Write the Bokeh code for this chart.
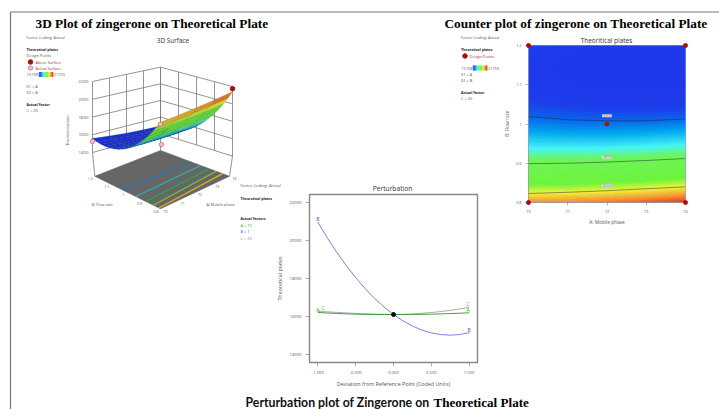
from bokeh.plotting import figure
from bokeh.embed import file_html
from bokeh.resources import INLINE
from bokeh.models import Range1d, FixedTicker
from bokeh.core.properties import value
import numpy as np

# ---------- data ----------
mobile_phase = [70, 71, 72, 73, 74]
flow_rate = [0.8, 0.825, 0.85, 0.875, 0.9, 0.925, 0.95, 0.975, 1.0,
             1.025, 1.05, 1.075, 1.1, 1.125, 1.15, 1.175, 1.2]
plates_surface = [
    [20760, 20845, 20980, 21165, 21400],
    [19979, 20044, 20159, 20324, 20539],
    [19259, 19304, 19399, 19544, 19739],
    [18600, 18625, 18700, 18825, 19000],
    [18003, 18008, 18063, 18168, 18323],
    [17465, 17450, 17485, 17570, 17705],
    [16989, 16954, 16969, 17034, 17149],
    [16574, 16519, 16514, 16559, 16654],
    [16220, 16145, 16120, 16145, 16220],
    [15927, 15832, 15787, 15792, 15847],
    [15694, 15579, 15514, 15499, 15534],
    [15523, 15388, 15303, 15268, 15283],
    [15413, 15258, 15153, 15098, 15093],
    [15363, 15188, 15063, 14988, 14963],
    [15374, 15179, 15034, 14939, 14894],
    [15447, 15232, 15067, 14952, 14887],
    [15580, 15345, 15160, 15025, 14940],
]
z_ticks = [14000, 16000, 18000, 20000, 22000]
b_ticks = [0.8, 0.9, 1.0, 1.1, 1.2]
a_ticks = [70, 71, 72, 73, 74]
design_A = [70, 74, 72, 74]
design_B = [1.2, 1.2, 1.0, 0.8]
design_Z = [15240, 15158, 15390, 21755]
floor_levels_B70 = [1.03, 0.95, 0.89, 0.844, 0.81]
floor_levels_B74 = [1.02, 0.966, 0.917, 0.878, 0.84]
floor_colors = ["#1f78c8", "#22b8b8", "#22b04a", "#7cc62c", "#e0b020"]

contour_A = [70, 71, 72, 73, 74]
contour_16000 = [1.019, 1.011, 1.008, 1.008, 1.013]
contour_18000 = [0.899, 0.900, 0.903, 0.907, 0.912]
contour_20000 = [0.823, 0.826, 0.830, 0.835, 0.840]
corner_A = [70, 74, 72, 70, 74]
corner_B = [1.2, 1.2, 1.0, 0.8, 0.8]

pert_x = [-1, -0.875, -0.75, -0.625, -0.5, -0.375, -0.25, -0.125, 0,
          0.125, 0.25, 0.375, 0.5, 0.625, 0.75, 0.875, 1]
pert_B = [20980, 20159, 19399, 18700, 18063, 17485, 16969, 16514, 16120,
          15787, 15514, 15303, 15153, 15063, 15034, 15067, 15160]
pert_A = [16230, 16200, 16175, 16155, 16140, 16130, 16122, 16120, 16120,
          16120, 16125, 16130, 16140, 16155, 16170, 16190, 16210]
pert_C = [16300, 16265, 16235, 16205, 16180, 16160, 16140, 16128, 16120,
          16130, 16150, 16185, 16225, 16280, 16340, 16410, 16500]

palette_stops = [0.0, 0.07, 0.12, 0.2, 0.31, 0.40, 0.64, 0.74, 0.85, 0.95]
palette_rgb = [(32, 56, 235), (30, 62, 235), (12, 95, 235), (0, 165, 240), (70, 245, 245),
               (110, 245, 90), (110, 245, 60), (240, 245, 60), (250, 150, 50), (225, 55, 30)]
z_min, z_max = 15158, 21755
GRAY = "#555555"
FONT = "Open Sans"


def rgb_of(z):
    f = min(1.0, max(0.0, (z - z_min) / (z_max - z_min)))
    return tuple(int(np.interp(f, palette_stops, [c[i] for c in palette_rgb])) for i in range(3))


def hex_of(z, k=1.0):
    return "#%02x%02x%02x" % tuple(int(c * k) for c in rgb_of(z))


def absolute(left, top):
    return {"position": "absolute", "left": f"{left}px", "top": f"{top}px"}


# ---------- background sheet: titles, legends, 3-D view ----------
bg = figure(width=719, height=409, x_range=Range1d(0, 719), y_range=Range1d(409, 0),
            output_backend="svg", toolbar_location=None, min_border=0,
            outline_line_color=None, styles=absolute(0, 0))
bg.axis.visible = False
bg.grid.visible = False


def put(x, y, s, size=3.9, color=GRAY, bold=False, align="left", font=FONT, angle=0.0):
    bg.text([x], [y], text=[s], text_font=value(font), text_font_size=f"{size}px",
            text_color=color, text_align=align, text_baseline="middle",
            text_font_style="bold" if bold else "normal", angle=angle)


bg.line([10, 719], [11.5, 11.5], line_color="#777777", line_width=1.2)
bg.line([10, 10], [11.5, 409], line_color="#777777", line_width=1.2)

put(35, 23, "3D Plot of zingerone on Theoretical Plate", 13.3, "#000000", True, font="Liberation Serif")
put(444, 23, "Counter plot of zingerone on Theoretical Plate", 13.3, "#000000", True, font="Liberation Serif")
put(245, 402, "Perturbation plot of Zingerone on", 12.3, "#111111", True, font="Lato")
put(433, 402, "Theoretical Plate", 13.1, "#000000", True, font="Liberation Serif")

BOLD = dict(bold=True, size=3.5, color="#222222")
# legend, 3-D
put(26, 37, "Factor Coding: Actual")
put(26, 49, "Theoretical plates", **BOLD)
put(26, 55, "Design Points")
put(35, 61.5, "Above Surface", color="#b03030")
put(35, 67.5, "Below Surface", color="#b03030")
bg.scatter([30], [61.5], size=4.5, color="#a81010")
bg.scatter([30], [67.5], size=4.5, fill_color="#f0c0c0", line_color="#b06060", line_width=0.6)
put(26, 74, "15158", color="#4040c0")
put(53.5, 74, "21755", color="#c03030")
put(26, 86, "X1 = A")
put(26, 92, "X2 = B")
put(26, 104, "Actual Factor", **BOLD)
put(26, 110, "C = 20")
put(172.5, 40, "3D Surface", 6.4, "#333333", align="center")

# legend, contour
put(460.5, 37, "Factor Coding: Actual")
put(460.5, 49, "Theoretical plates", **BOLD)
bg.scatter([464.5], [55.5], size=4.5, color="#a81010")
put(469, 55.5, "Design Points", color="#b03030")
put(460.7, 67.5, "15158", color="#4040c0")
put(487.7, 67.5, "21755", color="#c03030")
put(460.5, 74, "X1 = A")
put(460.5, 80, "X2 = B")
put(460.5, 92, "Actual Factor", **BOLD)
put(460.5, 98, "C = 20")

# legend, perturbation
put(240, 185, "Factor Coding: Actual", 4.1)
put(240, 198, "Theoretical plates", **BOLD)
put(240, 218, "Actual Factors", **BOLD)
put(240, 224.5, "A = 72", color="#30a030")
put(240, 231, "B = 1", color="#4040d0")
put(240, 237.5, "C = 20", color="#888888")

# colour bars
bar_vals = list(np.linspace(z_min, z_max, 24))
for x0, y0 in [(38.3, 74), (472.3, 67.5)]:
    w = 14.4 / len(bar_vals)
    bg.quad(left=[x0 + i * w for i in range(len(bar_vals))],
            right=[x0 + (i + 1) * w + 0.2 for i in range(len(bar_vals))],
            top=[y0 - 2.6] * len(bar_vals), bottom=[y0 + 2.6] * len(bar_vals),
            fill_color=[hex_of(v) for v in bar_vals], line_color=None)

# 3-D projection anchored on the four corners of the floor
C_XF = {"L": 94.3, "F": 160.0, "R": 229.0, "B": 160.0}
C_YF = {"L": 175.7, "F": 208.3, "R": 175.7, "B": 150.0}
C_XW = {"L": 92.0, "F": 160.0, "R": 232.0, "B": 160.0}
C_Y14 = {"L": 152.0, "F": 184.0, "R": 155.6, "B": 133.3}
C_S = {"L": 8.875, "F": 9.2, "R": 8.7, "B": 8.33}


def bil(c, a, b):
    u = (a - 70) / 4.0
    v = (b - 0.8) / 0.4
    return (c["F"] * (1 - u) * (1 - v) + c["R"] * u * (1 - v) + c["L"] * (1 - u) * v + c["B"] * u * v)


def proj(a, b, z):
    return bil(C_XW, a, b), bil(C_Y14, a, b) - bil(C_S, a, b) * (z - 14000) / 1000.0


def proj_floor(a, b):
    return bil(C_XF, a, b), bil(C_YF, a, b)


# floor
bg.patch([C_XF[k] for k in "LFRB"], [C_YF[k] for k in "LFRB"], fill_color="#666666", line_color="#555555", line_width=0.5)

# walls
wall = dict(line_color="#7a7a7a", line_width=0.8)
for z in z_ticks:
    xs, ys = zip(proj(70, 1.2, z), proj(74, 1.2, z), proj(74, 0.8, z))
    bg.line(list(xs), list(ys), **wall)
for a in a_ticks:
    xs, ys = zip(proj(a, 1.2, 14000), proj(a, 1.2, 22000))
    bg.line(list(xs), list(ys), **wall)
for b in b_ticks:
    xs, ys = zip(proj(74, b, 14000), proj(74, b, 22000))
    bg.line(list(xs), list(ys), **wall)
for a, b in [(70, 1.2), (74, 1.2), (74, 0.8)]:
    bg.line([proj(a, b, 14000)[0], proj_floor(a, b)[0]], [proj(a, b, 14000)[1], proj_floor(a, b)[1]], **wall)

# floor contour lines
for b0, b1, col in zip(floor_levels_B70, floor_levels_B74, floor_colors):
    p0, p1 = proj_floor(70, b0), proj_floor(74, b1)
    bg.line([p0[0], p1[0]], [p0[1], p1[1]], line_color=col, line_width=1.2)

pink = dict(size=4.5, fill_color="#f0c0c0", line_color="#b06060", line_width=0.6)
px, py = proj(design_A[1], design_B[1], design_Z[1])
cx, cy = proj(design_A[2], design_B[2], design_Z[2])
bg.scatter([cx], [cy], **pink)

# surface quads, far corner first
cells = []
for j in range(len(flow_rate) - 1):
    for i in range(len(mobile_phase) - 1):
        depth = (j + 0.5) / (len(flow_rate) - 1) + (i + 0.5) / (len(mobile_phase) - 1)
        cells.append((depth, i, j))
cells.sort(key=lambda c: -c[0])
qx, qy, qc, ql = [], [], [], []
for _, i, j in cells:
    corners = [(i, j), (i + 1, j), (i + 1, j + 1), (i, j + 1)]
    pts = [proj(mobile_phase[m], flow_rate[n], plates_surface[n][m]) for m, n in corners]
    qx.append([p[0] for p in pts])
    qy.append([p[1] for p in pts])
    mean_z = np.mean([plates_surface[n][m] for m, n in corners])
    qc.append(hex_of(mean_z, 0.88))
    ql.append(hex_of(mean_z, 0.62))
bg.patches(qx, qy, fill_color=qc, line_color=ql, line_width=0.3)

# design points in front
lx, ly = proj(design_A[0], design_B[0], design_Z[0])
bg.scatter([lx, px], [ly, py], **pink)
rx, ry = proj(design_A[3], design_B[3], design_Z[3])
bg.scatter([rx], [ry], size=4.5, color="#a81010")

# 3-D axis labels
for z in z_ticks:
    xx, yy = proj(70, 1.2, z)
    put(xx - 4, yy, str(z), 3.5, align="right")
for a in a_ticks:
    xx, yy = proj_floor(a, 0.8)
    put(xx + 5, yy + 2.4, str(a), 3.5, align="center")
for b, s in zip(b_ticks, ["0.8", "0.9", "1", "1.1", "1.2"]):
    xx, yy = proj_floor(70, b)
    put(xx - 4.5, yy + 2.4, s, 3.5, align="center")
put(101.7, 204, "B: Flow rate", 3.8, align="center")
put(220, 204, "A: Mobile phase", 3.8, align="center")
put(67, 130, "Theoretical plates", 3.7, align="center", angle=np.pi / 2)

# ---------- contour plot ----------
cf_left, cf_top, cf_w, cf_h = 528, 45, 157, 157
b_left, b_right, b_top, b_bottom = 36, 10, 10, 30
cp = figure(width=cf_w + b_left + b_right, height=cf_h + b_top + b_bottom,
            frame_width=cf_w, frame_height=cf_h,
            x_range=Range1d(70, 74), y_range=Range1d(0.8, 1.2),
            output_backend="svg", toolbar_location=None,
            min_border_left=b_left, min_border_right=b_right, min_border_top=b_top, min_border_bottom=b_bottom,
            outline_line_color=None, background_fill_color="#2038eb", border_fill_color=None,
            styles=absolute(cf_left - b_left, cf_top - b_top))
cp.grid.visible = False
surface_array = np.array(plates_surface, dtype=float)
for offset in (0, 50):
    levels = list(np.arange(14800 + offset, 21600, 100))
    band_cols = [hex_of(l + 50) for l in levels[:-1]]
    cp.contour(mobile_phase, flow_rate, surface_array, levels=levels,
               fill_color=band_cols, line_color=None)
for vals in (contour_16000, contour_18000, contour_20000):
    cp.line(contour_A, vals, line_color="#222222", line_width=0.6, line_alpha=0.8)
for lab, lev in zip(["16000", "18000", "20000"], [contour_16000, contour_18000, contour_20000]):
    cp.text([72], [lev[2] + 0.013], text=[lab], text_font=value(FONT), text_font_size="3.4px",
            text_color="#555555", text_align="center", text_baseline="middle",
            background_fill_color="#f4f4f4")
for ax, tick, labs, title in [(cp.xaxis[0], a_ticks, {}, "A: Mobile phase"),
                              (cp.yaxis[0], b_ticks, {1.0: "1", 0.8: "0.8", 0.9: "0.9", 1.1: "1.1", 1.2: "1.2"}, "B: Flow rate")]:
    ax.ticker = FixedTicker(ticks=tick)
    ax.major_label_overrides = labs
    ax.major_label_text_font = FONT
    ax.major_label_text_font_size = "3.8px"
    ax.major_label_text_color = GRAY
    ax.major_tick_out = 3
    ax.major_tick_in = 0
    ax.minor_tick_out = 0
    ax.minor_tick_in = 0
    ax.major_tick_line_color = "#888888"
    ax.major_tick_line_width = 0.6
    ax.axis_line_color = "#999999"
    ax.axis_line_width = 0.6
    ax.major_label_standoff = 4
    ax.axis_label = title
    ax.axis_label_text_font = FONT
    ax.axis_label_text_font_size = "4.8px"
    ax.axis_label_text_font_style = "normal"
    ax.axis_label_text_color = GRAY
    ax.axis_label_standoff = 3
put(606, 40, "Theoritical plates", 6.5, "#333333", align="center")

# overlay with the design points, so corner dots are not clipped
pad = 6
ux = 4.0 / cf_w
uy = 0.4 / cf_h
ov = figure(width=cf_w + 2 * pad, height=cf_h + 2 * pad, frame_width=cf_w + 2 * pad, frame_height=cf_h + 2 * pad,
            x_range=Range1d(70 - pad * ux, 74 + pad * ux), y_range=Range1d(0.8 - pad * uy, 1.2 + pad * uy),
            output_backend="svg", toolbar_location=None, min_border=0,
            outline_line_color=None, background_fill_color=None, border_fill_color=None,
            styles=absolute(cf_left - pad, cf_top - pad))
ov.axis.visible = False
ov.grid.visible = False
ov.scatter(corner_A, corner_B, size=4, color="#a81010")

# ---------- perturbation plot ----------
pf_left, pf_top, pf_w, pf_h = 309, 194, 168, 168
m_left, m_right, m_top, m_bottom = 40, 6, 12, 30
pp = figure(width=pf_w + m_left + m_right, height=pf_h + m_top + m_bottom,
            frame_width=pf_w, frame_height=pf_h,
            x_range=Range1d(-1.11, 1.11), y_range=Range1d(13595, 22437),
            output_backend="svg", toolbar_location=None,
            min_border_left=m_left, min_border_right=m_right, min_border_top=m_top, min_border_bottom=m_bottom,
            outline_line_color="#888888", outline_line_width=1.4,
            background_fill_color=None, border_fill_color=None,
            styles=absolute(pf_left - m_left, pf_top - m_top))
pp.grid.visible = False
pp.line(pert_x, pert_C, line_color="#888888", line_width=0.7)
pp.line(pert_x, pert_A, line_color="#2a9a2a", line_width=0.9)
pp.line(pert_x, pert_B, line_color="#7070e0", line_width=0.9)
pp.scatter([0], [16120], size=4, color="#000000")
for x, y, s, col in [(-1, 21140, "B", "#5050e0"), (1, 15330, "B", "#5050e0"),
                     (-1, 16380, "A", "#30a030"), (-0.93, 16470, "C", "#888888"),
                     (0.985, 16650, "C", "#888888"), (0.985, 16370, "A", "#30a030")]:
    pp.text([x], [y], text=[s], text_font=value(FONT), text_font_size="5px", text_color=col,
            text_align="center", text_baseline="middle")
pp.xaxis[0].ticker = FixedTicker(ticks=[-1, -0.5, 0, 0.5, 1])
pp.xaxis[0].major_label_overrides = {-1: "-1.000", -0.5: "-0.500", 0: "0.000", 0.5: "0.500", 1: "1.000"}
pp.yaxis[0].ticker = FixedTicker(ticks=z_ticks)
pp.yaxis[0].formatter.use_scientific = False
pp.xaxis[0].axis_label = "Deviation from Reference Point (Coded Units)"
pp.yaxis[0].axis_label = "Theoretical plates"
for ax in (pp.xaxis[0], pp.yaxis[0]):
    ax.major_label_text_font = FONT
    ax.major_label_text_font_size = "4.2px"
    ax.major_label_text_color = GRAY
    ax.major_tick_out = 4
    ax.major_tick_in = 0
    ax.minor_tick_out = 0
    ax.minor_tick_in = 0
    ax.major_tick_line_color = "#777777"
    ax.major_tick_line_width = 0.6
    ax.axis_line_color = "#888888"
    ax.major_label_standoff = 4
    ax.axis_label_text_font = FONT
    ax.axis_label_text_font_size = "5.35px"
    ax.axis_label_text_font_style = "normal"
    ax.axis_label_text_color = GRAY
    ax.axis_label_standoff = 3
put(392, 188, "Perturbation", 6.7, "#333333", align="center")

open("out.html", "w").write(file_html([bg, cp, ov, pp], INLINE))
